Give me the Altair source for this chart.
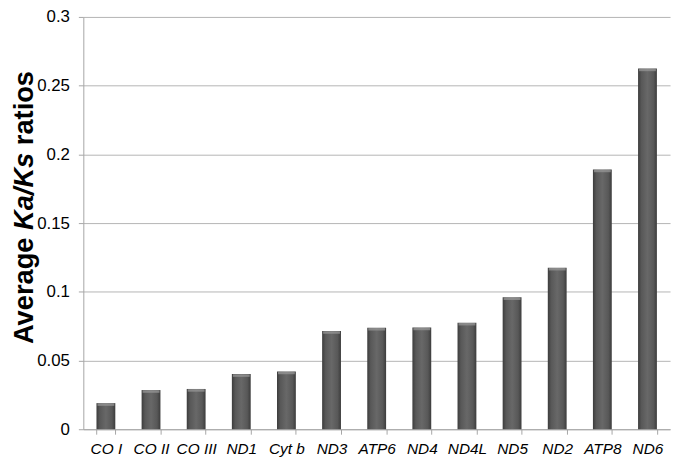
import altair as alt
import pandas as pd

genes = ["CO I", "CO II", "CO III", "ND1", "Cyt b", "ND3", "ATP6", "ND4", "ND4L", "ND5", "ND2", "ATP8", "ND6"]
ratios = [0.019, 0.0285, 0.0293, 0.0401, 0.042, 0.0714, 0.0738, 0.074, 0.0775, 0.096, 0.1175, 0.189, 0.2625]
y_ticks = [0, 0.05, 0.1, 0.15, 0.2, 0.25, 0.3]
title_parts = ["Average", "Ka/Ks", "ratios"]

df = pd.DataFrame({"gene": genes, "ratio": ratios})

FONT = "Liberation Sans"

x_enc = alt.X("gene:N", sort=genes, title=None,
              scale=alt.Scale(paddingInner=0.58, paddingOuter=0.29),
              axis=alt.Axis(labelAngle=0, labelFont=FONT, labelFontStyle="italic",
                            labelFontSize=15.5, labelColor="#000000", labelPadding=7,
                            tickBand="extent", tickSize=5, tickColor="#a6a6a6",
                            domainColor="#a6a6a6", grid=False))
y_enc = alt.Y("ratio:Q", title=None,
              scale=alt.Scale(domain=[0, 0.3], nice=False),
              axis=alt.Axis(values=y_ticks, format="~g", labelFont=FONT, labelFontSize=17,
                            labelColor="#000000", labelPadding=9, tickSize=5,
                            tickColor="#a6a6a6", domainColor="#a6a6a6",
                            grid=True, gridColor="#b4b4b4"))

grad = alt.LinearGradient(
    gradient="linear",
    stops=[alt.GradientStop(color="#3c3c3c", offset=0),
           alt.GradientStop(color="#585858", offset=0.18),
           alt.GradientStop(color="#686868", offset=0.5),
           alt.GradientStop(color="#585858", offset=0.82),
           alt.GradientStop(color="#3c3c3c", offset=1)],
    x1=0, x2=1, y1=0, y2=0)

bars = alt.Chart(df).mark_bar(size=19, color=grad).encode(x=x_enc, y=y_enc)
tops = alt.Chart(df).mark_tick(size=17, thickness=2.5, color="#9a9a9a", yOffset=1.5).encode(
    x=alt.X("gene:N", sort=genes), y="ratio:Q")

tdf = pd.DataFrame({"t": title_parts})
t_common = dict(angle=270, font=FONT, fontSize=27.5, fontWeight="bold", baseline="alphabetic", color="#000000")
t1 = alt.Chart(tdf[tdf.t == "Average"]).mark_text(align="right", **t_common).encode(
    text="t:N", x=alt.value(-51), y=alt.value(222.6))
t2 = alt.Chart(tdf[tdf.t == "Ka/Ks"]).mark_text(align="center", fontStyle="italic", **t_common).encode(
    text="t:N", x=alt.value(-51), y=alt.value(176))
t3 = alt.Chart(tdf[tdf.t == "ratios"]).mark_text(align="left", **t_common).encode(
    text="t:N", x=alt.value(-51), y=alt.value(129.4))

chart = alt.layer(bars, tops, t1, t2, t3).properties(
    width=592, height=416,
    autosize=alt.AutoSizeParams(type="none"),
    padding={"left": 76, "top": 7, "right": 5, "bottom": 26},
).configure_view(stroke=None)

chart.save("out.html", embed_options={"renderer": "svg", "actions": False})
